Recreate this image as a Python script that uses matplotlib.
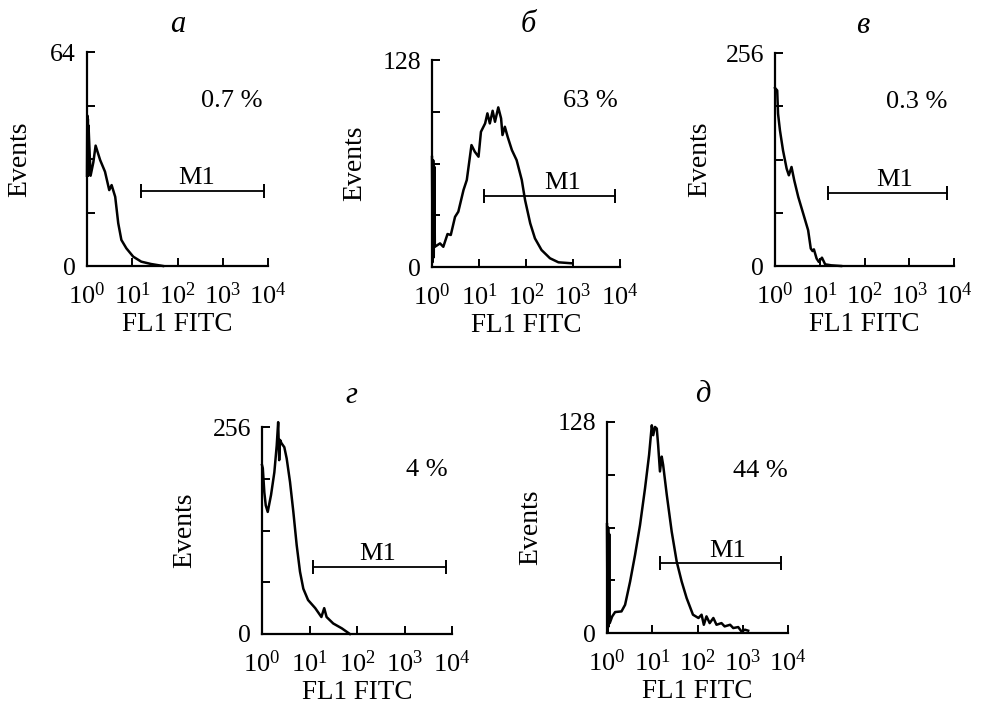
import matplotlib
matplotlib.use('Agg')
import matplotlib.pyplot as plt
from matplotlib.ticker import NullLocator

plt.rcParams['font.family'] = 'Liberation Serif'
plt.rcParams['mathtext.fontset'] = 'custom'
plt.rcParams['mathtext.rm'] = 'Liberation Serif'
plt.rcParams['mathtext.it'] = 'Liberation Serif:italic'

# panel letters, percent of events inside the M1 gate, y axis maximum
letters = ['а', 'б', 'в', 'г', 'д']
percents = ['0.7 %', '63 %', '0.3 %', '4 %', '44 %']
ymax = [64, 128, 256, 256, 128]

# M1 gate: start, end (FL1) and level (events)
gate_start = [16, 12.8, 15.4, 11.8, 14.8]
gate_end = [8000, 7800, 7050, 7500, 6900]
gate_level = [22.5, 44, 88, 83, 42.4]

# histograms: FL1 FITC intensity vs events
fl_a = [1.0, 1.015, 1.03, 1.045, 1.06, 1.08, 1.2, 1.38, 1.55, 1.95, 2.5, 3.1,
        3.5, 4.2, 4.9, 5.75, 7.4, 10.5, 15.8, 26, 48]
ev_a = [27, 45, 28, 44, 27, 42, 27, 31, 36, 31.7, 28.2, 22.7,
        24.2, 20.7, 12.8, 7.8, 5.3, 2.8, 1.3, 0.6, 0]

fl_b = [1.0, 1.03, 1.06, 1.09, 1.12, 1.15, 1.48, 1.74, 2.14, 2.51, 3.09, 3.63,
        4.68, 5.5, 6.92, 8.13, 9.77, 11.0, 13.5, 15.1, 17.0, 19.5, 21.9,
        25.7, 29.5, 31.6, 35.5, 40.7, 50.1, 63.1, 81.3, 95.5, 123, 155, 214,
        324, 490, 933]
ev_b = [68, 3, 66, 6, 62, 12.5, 14.6, 12.5, 20.4, 19.8, 31, 34.2,
        47.6, 53.8, 75.4, 71.3, 68.2, 83.6, 88.8, 95, 88.8, 96.6, 89.8,
        98.7, 91.9, 81.6, 86.7, 80.5, 72.3, 66.1, 53.8, 41.4, 27, 17.7, 10.5,
        5.4, 2.9, 2.3]

fl_c = [1.0, 1.12, 1.17, 1.29, 1.51, 1.82, 2.04, 2.34, 2.69, 3.31, 4.27,
        5.5, 6.3, 6.9, 7.4, 8.5, 9.5, 11.2, 13.2, 18.2, 30]
ev_c = [214, 211, 183, 163, 139, 117, 109, 119, 103, 83, 63,
        43, 21, 18, 20, 9, 5, 10, 2, 0.8, 0]

fl_d = [1.0, 1.04, 1.12, 1.2, 1.32, 1.55, 1.82, 2.04, 2.19, 2.3, 2.4, 2.57,
        2.95, 3.31, 3.89, 4.57, 5.37, 6.31, 7.41, 9.33, 13.2, 17.8, 20.4,
        22.9, 31.6, 47.9, 70.8]
ev_d = [209, 205, 175, 159, 151, 172, 200, 233, 262, 215, 240, 236,
        231, 217, 188, 151, 110, 77, 56, 42, 32, 21, 32,
        21, 13, 7, 0]

fl_e = [1.0, 1.03, 1.06, 1.09, 1.12, 1.15, 1.3, 1.51, 2.09, 2.51, 3.24, 4.17,
        5.37, 6.92, 8.51, 9.77, 10.5, 11.5, 12.6, 13.5, 14.8, 16.2, 17.4,
        20.9, 26.9, 34.7, 44.7, 57.5, 79.4, 105, 123, 138, 158, 186, 224,
        263, 339, 398, 525, 617, 794, 933, 1122, 1318]
ev_e = [66, 1, 64, 4, 60, 6, 10, 12.7, 13.1, 17.1, 31.2, 47.4,
        65.5, 87.7, 108, 126, 120, 125, 124, 114, 98, 107, 102,
        84, 61.5, 43.3, 31.2, 21.2, 11.1, 9.1, 11.1, 5, 10.1, 6, 9.1,
        5, 6, 4, 5, 3, 3.6, 1, 2, 1.4]

fl_data = [fl_a, fl_b, fl_c, fl_d, fl_e]
ev_data = [ev_a, ev_b, ev_c, ev_d, ev_e]

# axes boxes in pixels: left, right, top, bottom
boxes = [(87, 268, 52, 266), (432, 620, 60, 267), (775, 954, 53, 266),
         (262, 452, 427, 634), (607, 788, 422, 633)]
# where the texts sit (axes fractions)
pct_pos = [(0.80, 0.77), (0.84, 0.80), (0.79, 0.77), (0.87, 0.79), (0.85, 0.77)]
title_pos = [(0.50, 1.093), (0.51, 1.135), (0.49, 1.094), (0.47, 1.116), (0.53, 1.095)]
ylab_x = [-0.30, -0.345, -0.35, -0.34, -0.35]
m1_x = [270, 610, 480, 277, 470]

W, H = 982, 709
fig = plt.figure(figsize=(W / 100, H / 100), dpi=100)

for i in range(5):
    l, r, t, b = boxes[i]
    ax = fig.add_axes([l / W, 1 - b / H, (r - l) / W, (b - t) / H])

    ax.plot(fl_data[i], ev_data[i], color='black', lw=1.8, clip_on=False)

    ax.set_xscale('log')
    ax.set_xlim(1, 1e4)
    ax.set_ylim(0, ymax[i])
    ax.set_xticks([1, 10, 100, 1000, 10000])
    ax.set_xticklabels([r'$10^{%d}$' % k for k in range(5)])
    ax.xaxis.set_minor_locator(NullLocator())
    ax.set_yticks([0, ymax[i] / 4, ymax[i] / 2, 3 * ymax[i] / 4, ymax[i]])
    ax.set_yticklabels(['0', '', '', '', str(ymax[i])])

    for s in ['top', 'right']:
        ax.spines[s].set_visible(False)
    for s in ['left', 'bottom']:
        ax.spines[s].set_linewidth(1.6)
    ax.tick_params(axis='x', direction='in', length=6, width=1.4,
                   labelsize=19, pad=12)
    ax.tick_params(axis='y', direction='in', length=5.5, width=1.4,
                   labelsize=18.5, pad=8)

    ax.set_xlabel('FL1 FITC', fontsize=19.5, labelpad=2)
    ax.set_ylabel('Events', fontsize=20)
    ax.yaxis.set_label_coords(ylab_x[i], 0.5)

    # gate marker
    ax.plot([gate_start[i], gate_end[i]], [gate_level[i], gate_level[i]],
            color='black', lw=1.3, marker='|', markersize=10, mew=1.4)
    ax.annotate('M1', (m1_x[i], gate_level[i]), xytext=(0, 1),
                textcoords='offset points', ha='center', va='bottom', fontsize=19)

    ax.text(pct_pos[i][0], pct_pos[i][1], percents[i], transform=ax.transAxes,
            ha='center', va='center', fontsize=19)
    ax.text(title_pos[i][0], title_pos[i][1], letters[i], transform=ax.transAxes,
            ha='center', va='baseline', fontsize=22, fontstyle='italic')

fig.savefig('out.png', dpi=100)
